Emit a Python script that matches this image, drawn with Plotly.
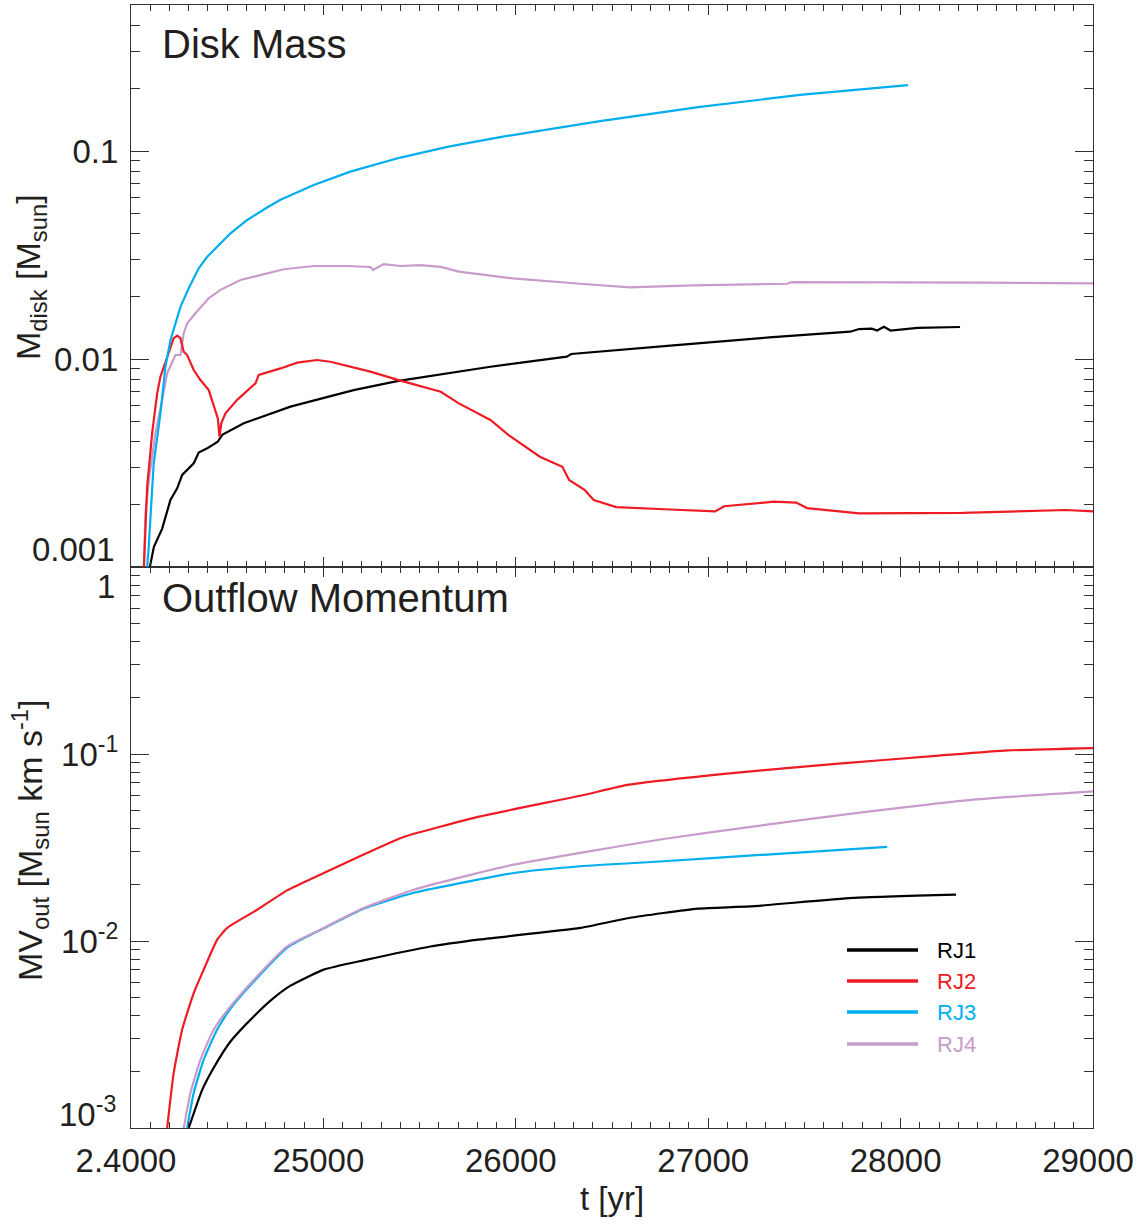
import plotly.graph_objects as go

# ---------------- data ----------------
# Top panel: disk mass [Msun]
t_disk_rj1 = [24098, 24119, 24162, 24205, 24240, 24266, 24326, 24352, 24396, 24451, 24474, 24586,
              24829, 25002, 25157, 25383, 25556, 25868, 26265, 26288, 26803, 27317, 27738, 27784,
              27850, 27878, 27913, 27948, 28088, 28309]
m_disk_rj1 = [0.001, 0.00125, 0.00153, 0.0021, 0.00239, 0.00277, 0.00315, 0.00355, 0.00372, 0.0040,
              0.00432, 0.00491, 0.0059, 0.00648, 0.00709, 0.00783, 0.00828, 0.00918, 0.01026, 0.01057,
              0.0116, 0.0127, 0.01353, 0.01393, 0.0140, 0.0137, 0.01428, 0.0137, 0.0141, 0.01425]

t_disk_rj2 = [24067, 24084, 24110, 24136, 24153, 24188, 24222, 24240, 24257, 24274, 24292, 24326,
              24361, 24404, 24430, 24451, 24460, 24469, 24491, 24552, 24647, 24664, 24777, 24864,
              24967, 25036, 25244, 25400, 25610, 25704, 25868, 25961, 26125, 26242, 26277, 26359,
              26405, 26522, 26803, 27036, 27083, 27340, 27457, 27514, 27784, 28322, 28860, 29000]
m_disk_rj2 = [0.001, 0.00243, 0.0044, 0.00684, 0.00822, 0.01026, 0.01259, 0.01295, 0.0126, 0.01084,
              0.01045, 0.00885, 0.00792, 0.00709, 0.0059, 0.00519, 0.00423, 0.00491, 0.00548, 0.00636,
              0.00764, 0.00838, 0.00901, 0.0096, 0.00989, 0.0097, 0.00869, 0.00787, 0.00696, 0.00612,
              0.00509, 0.00432, 0.00339, 0.00303, 0.00262, 0.00234, 0.0021, 0.00194, 0.00189, 0.00185,
              0.00196, 0.00206, 0.00204, 0.00192, 0.00181, 0.00182, 0.00188, 0.00185]

t_disk_rj3 = [24084, 24092, 24118, 24153, 24179, 24205, 24257, 24300, 24352, 24396, 24517, 24604,
              24707, 24777, 24950, 25140, 25400, 25650, 25919, 26438, 26958, 27477, 28038]
m_disk_rj3 = [0.001, 0.00125, 0.00315, 0.00548, 0.00918, 0.0123, 0.0178, 0.0219, 0.0273, 0.0310,
              0.0402, 0.0466, 0.0535, 0.0583, 0.0687, 0.0796, 0.093, 0.105, 0.1167, 0.1393,
              0.163, 0.186, 0.2075]

t_disk_rj4 = [24067, 24075, 24093, 24127, 24162, 24188, 24231, 24257, 24274, 24292, 24335, 24404,
              24465, 24569, 24656, 24794, 24950, 25123, 25244, 25258, 25313, 25400, 25504, 25610,
              25704, 25985, 26335, 26592, 26920, 27411, 27434, 27972, 28439, 29000]
m_disk_rj4 = [0.001, 0.00182, 0.00262, 0.0044, 0.00636, 0.00853, 0.01045, 0.01045, 0.0133, 0.01486,
              0.0166, 0.0196, 0.0215, 0.0240, 0.0251, 0.0270, 0.0280, 0.0280, 0.0277, 0.0268,
              0.0286, 0.0280, 0.0283, 0.0277, 0.0263, 0.0244, 0.0230, 0.0221, 0.0226, 0.0230,
              0.0234, 0.0234, 0.0233, 0.0231]

# Bottom panel: outflow momentum [Msun km/s]
t_mv_rj1 = [24300, 24370, 24430, 24517, 24638, 24742, 24829, 25002, 25209, 25556, 25816, 26335,
            26589, 26947, 27215, 27752, 28288]
mv_rj1 = [0.001, 0.0016, 0.0021, 0.0029, 0.00395, 0.00496, 0.00577, 0.00703, 0.00788, 0.00935,
          0.0102, 0.01175, 0.01328, 0.0149, 0.0153, 0.0170, 0.0177]

t_mv_rj2 = [24188, 24222, 24266, 24326, 24378, 24448, 24500, 24656, 24811, 25002, 25209, 25417,
            25816, 26335, 26589, 27125, 27662, 28199, 28557, 29000]
mv_rj2 = [0.001, 0.00197, 0.00336, 0.00527, 0.00703, 0.01016, 0.01175, 0.01469, 0.01866, 0.02311,
          0.0290, 0.0360, 0.0464, 0.0598, 0.0686, 0.0791, 0.0885, 0.098, 0.1045, 0.1076]

t_mv_rj3 = [24292, 24326, 24378, 24448, 24526, 24664, 24820, 25002, 25209, 25469, 25729, 25989,
            26335, 26768, 27305, 27930]
mv_rj3 = [0.001, 0.00154, 0.00232, 0.00336, 0.00447, 0.00648, 0.00935, 0.0117, 0.0149, 0.0181,
          0.0206, 0.0231, 0.0251, 0.0267, 0.0290, 0.0319]

t_mv_rj4 = [24274, 24309, 24361, 24430, 24517, 24656, 24811, 25002, 25209, 25469, 25729, 25989,
            26335, 26768, 27305, 27841, 28378, 29000]
mv_rj4 = [0.001, 0.00154, 0.00232, 0.00336, 0.00447, 0.00648, 0.00935, 0.01175, 0.0150, 0.0188,
          0.0221, 0.0256, 0.0296, 0.0351, 0.0419, 0.0493, 0.057, 0.0631]

series_names = ["RJ1", "RJ2", "RJ3", "RJ4"]
series_colors = ["#000000", "#ED1C24", "#00AEEF", "#C99BCB"]

x_tickvals = [24000, 25000, 26000, 27000, 28000, 29000]
x_ticktext = ["2.4000", "25000", "26000", "27000", "28000", "29000"]

# ---------------- figure ----------------
W, H = 1145, 1225
L, R, T, B = 131, 52, 5, 97
PH = H - T - B  # plot height in px
split = (1128 - 567) / PH

FONT = "Liberation Sans, Arial, Helvetica, sans-serif"
TXT = "#231F20"
AX = "#333333"

def py2paper(py):
    return (H - B - py) / PH

def px2paper(px):
    return (px - L) / (W - L - R)

fig = go.Figure()

disk = [(t_disk_rj1, m_disk_rj1), (t_disk_rj2, m_disk_rj2), (t_disk_rj3, m_disk_rj3), (t_disk_rj4, m_disk_rj4)]
mv = [(t_mv_rj1, mv_rj1), (t_mv_rj2, mv_rj2), (t_mv_rj3, mv_rj3), (t_mv_rj4, mv_rj4)]

# draw order: black, lilac, red, cyan on top panel
for i in [0, 3, 1, 2]:
    tx, ty = disk[i]
    fig.add_trace(go.Scatter(x=tx, y=ty, mode="lines", xaxis="x2", yaxis="y2",
                             line=dict(color=series_colors[i], width=2.2),
                             name=series_names[i], showlegend=False))
for i in [0, 1, 2, 3]:
    tx, ty = mv[i]
    fig.add_trace(go.Scatter(x=tx, y=ty, mode="lines", xaxis="x", yaxis="y",
                             line=dict(color=series_colors[i], width=2.2, shape="spline", smoothing=0.5),
                             name=series_names[i], showlegend=False))

minor_log = [m * 10 ** e for e in (-3, -2, -1, 0) for m in range(2, 10)]

common_x = dict(range=[24000, 29000], showgrid=False, zeroline=False, showline=True,
                linecolor=AX, linewidth=1.2, mirror="allticks", ticks="inside", ticklen=10,
                tickwidth=1.3, tickcolor=AX, tickvals=x_tickvals,
                minor=dict(ticks="inside", ticklen=6, tickwidth=1.1, tickcolor=AX, dtick=100, showgrid=False))
common_y = dict(type="log", showgrid=False, zeroline=False, showline=True, linecolor=AX, linewidth=1.2,
                mirror="allticks", ticks="inside", ticklen=18, tickwidth=1.3, tickcolor=AX,
                tickfont=dict(size=33, color=TXT, family=FONT), ticklabelstandoff=5,
                minor=dict(ticks="inside", ticklen=9, tickwidth=1.1, tickcolor=AX,
                           tickvals=minor_log, showgrid=False))

fig.update_layout(
    width=W, height=H, autosize=False,
    margin=dict(l=L, r=R, t=T, b=B),
    paper_bgcolor="white", plot_bgcolor="white",
    font=dict(family=FONT, color=TXT),
    showlegend=False,
    xaxis=dict(anchor="y", domain=[0, 1], ticktext=x_ticktext, showticklabels=True,
               tickfont=dict(size=33, color=TXT, family=FONT), ticklabelstandoff=3,
               ticklabelshift=-5, **common_x),
    xaxis2=dict(anchor="y2", domain=[0, 1], matches="x", showticklabels=False, **common_x),
    yaxis=dict(anchor="x", domain=[0, split], range=[-3, 0],
               tickvals=[0.01, 0.1], ticktext=["10<sup>-2</sup>", "10<sup>-1</sup>"], **common_y),
    yaxis2=dict(anchor="x2", domain=[split, 1], range=[-3, -3 + (567 - 5) / 208],
                tickvals=[0.01, 0.1], ticktext=["0.01", "0.1"], **common_y),
)

ann = []
# edge tick labels (offset as in the reference)
ann.append(dict(text="0.001", x=px2paper(117), y=py2paper(549), xanchor="right", yanchor="middle",
                font=dict(size=33, color=TXT, family=FONT)))
ann.append(dict(text="1", x=px2paper(117), y=py2paper(587), xanchor="right", yanchor="middle",
                font=dict(size=33, color=TXT, family=FONT)))
ann.append(dict(text="10<sup>-3</sup>", x=px2paper(118), y=py2paper(1112), xanchor="right", yanchor="middle",
                font=dict(size=33, color=TXT, family=FONT)))
# panel titles
ann.append(dict(text="Disk Mass", x=px2paper(160), y=py2paper(44), xanchor="left", yanchor="middle",
                font=dict(size=40, color=TXT, family=FONT)))
ann.append(dict(text="Outflow Momentum", x=px2paper(160), y=py2paper(598), xanchor="left", yanchor="middle",
                font=dict(size=40, color=TXT, family=FONT)))
# axis titles
ann.append(dict(text="M<sub>disk</sub> [M<sub>sun</sub>]", x=px2paper(30), y=py2paper(277),
                textangle=-90, xanchor="center", yanchor="middle",
                font=dict(size=34, color=TXT, family=FONT)))
ann.append(dict(text="MV<sub>out</sub> [M<sub>sun</sub> km s<sup>-1</sup>]", x=px2paper(30), y=py2paper(840),
                textangle=-90, xanchor="center", yanchor="middle",
                font=dict(size=34, color=TXT, family=FONT)))
ann.append(dict(text="t [yr]", x=px2paper(612), y=py2paper(1198), xanchor="center", yanchor="middle",
                font=dict(size=33, color=TXT, family=FONT)))

# legend (drawn manually to match the long sample lines)
leg_y = [950, 981, 1012, 1044]
shapes = []
for i, name in enumerate(series_names):
    shapes.append(dict(type="line", xref="paper", yref="paper",
                       x0=px2paper(847), x1=px2paper(918), y0=py2paper(leg_y[i]), y1=py2paper(leg_y[i]),
                       line=dict(color=series_colors[i], width=3.5)))
    ann.append(dict(text=name, x=px2paper(935), y=py2paper(leg_y[i]), xanchor="left", yanchor="middle",
                    font=dict(size=22, color=series_colors[i], family=FONT)))

for a in ann:
    a.setdefault("xref", "paper")
    a.setdefault("yref", "paper")
    a.setdefault("showarrow", False)

fig.update_layout(annotations=ann, shapes=shapes)

fig.write_html("out.html")
